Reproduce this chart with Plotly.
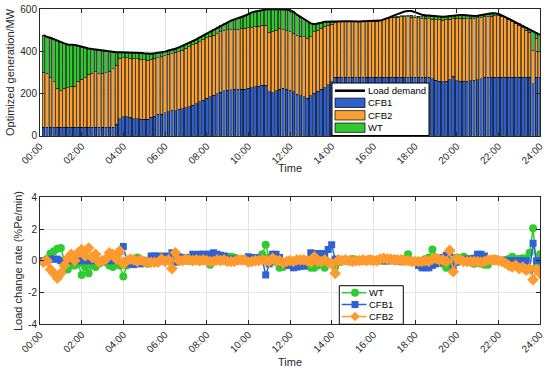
import plotly.graph_objects as go

# ---------------- data ----------------
times = [f"{(10 * k) // 60:02d}:{(10 * k) % 60:02d}" for k in range(1, 145)]
hours = [int(t[:2]) + int(t[3:]) / 60 for t in times]

tick_hours = [0, 2, 4, 6, 8, 10, 12, 14, 16, 18, 20, 22, 24]
tick_labels = ["00:00", "02:00", "04:00", "06:00", "08:00", "10:00", "12:00",
               "14:00", "16:00", "18:00", "20:00", "22:00", "24:00"]

load = [476, 468, 464, 457, 449, 442, 437, 432, 432, 429,
        426, 421, 416, 413, 410, 408, 405, 402, 400, 397,
        395, 395, 395, 395, 395, 395, 394, 393, 392, 390,
        388, 388, 390, 392, 395, 398, 403, 406, 412, 418,
        425, 432, 440, 448, 456, 465, 474, 483, 492, 502,
        512, 522, 530, 538, 545, 551, 556, 562, 568, 576,
        584, 588, 592, 595, 597, 600, 600, 600, 600, 600,
        598, 594, 586, 573, 562, 550, 540, 532, 528, 530,
        535, 539, 540, 540, 541, 541, 541, 542, 542, 541,
        541, 541, 542, 542, 543, 543, 543, 545, 551, 556,
        562, 570, 577, 583, 588, 591, 590, 585, 578, 573,
        570, 568, 566, 565, 563, 563, 565, 567, 570, 571,
        572, 571, 569, 567, 567, 568, 571, 575, 578, 580,
        580, 577, 570, 562, 553, 544, 537, 529, 521, 512,
        503, 495, 487, 478]

cfb1 = [39, 39, 39, 39, 39, 39, 39, 39, 39, 39,
        39, 39, 39, 39, 39, 39, 39, 39, 39, 39,
        39, 54, 81, 89, 89, 86, 81, 81, 78, 78,
        78, 86, 93, 101, 101, 108, 113, 120, 118, 124,
        128, 133, 137, 145, 152, 160, 168, 176, 184, 192,
        199, 206, 212, 215, 217, 219, 219, 219, 219, 224,
        228, 232, 235, 238, 239, 208, 203, 212, 220, 224,
        219, 214, 208, 197, 190, 184, 176, 190, 200, 210,
        219, 228, 240, 255, 276, 277, 277, 277, 277, 277,
        277, 277, 277, 277, 277, 277, 277, 277, 277, 277,
        277, 277, 277, 277, 277, 277, 277, 277, 277, 277,
        277, 277, 270, 262, 258, 255, 258, 265, 282, 260,
        258, 258, 258, 260, 262, 265, 270, 276, 277, 277,
        277, 277, 277, 277, 277, 277, 277, 277, 277, 277,
        277, 247, 277, 277]

cfb2 = [261, 256, 237, 216, 185, 173, 185, 189, 196, 196,
        219, 227, 235, 253, 256, 263, 256, 256, 258, 267,
        279, 280, 285, 280, 280, 281, 284, 283, 284, 282,
        280, 276, 273, 269, 273, 270, 272, 268, 277, 276,
        277, 282, 285, 285, 286, 286, 287, 287, 286, 284,
        286, 286, 288, 287, 285, 284, 286, 288, 289, 286,
        284, 284, 283, 284, 285, 282, 289, 288, 288, 279,
        278, 278, 276, 279, 282, 284, 285, 278, 292, 290,
        289, 291, 284, 273, 261, 264, 264, 265, 265, 264,
        264, 264, 265, 265, 266, 266, 266, 268, 274, 278,
        281, 283, 285, 286, 286, 286, 285, 283, 281, 280,
        280, 278, 282, 288, 290, 292, 291, 287, 273, 296,
        299, 298, 297, 296, 295, 293, 290, 287, 288, 289,
        291, 291, 289, 283, 274, 263, 255, 245, 235, 223,
        213, 158, 183, 123]

wt = [176, 173, 188, 202, 225, 230, 213, 204, 197, 194,
      168, 155, 142, 121, 115, 106, 110, 107, 103, 91,
      77, 61, 29, 26, 26, 28, 29, 29, 30, 30,
      30, 26, 24, 22, 21, 20, 18, 18, 17, 18,
      20, 17, 18, 18, 18, 19, 19, 20, 22, 26,
      27, 30, 30, 36, 43, 48, 51, 55, 60, 66,
      72, 72, 74, 73, 73, 110, 108, 100, 92, 97,
      101, 102, 102, 97, 90, 82, 79, 64, 36, 30,
      27, 20, 16, 12, 4, 0, 0, 0, 0, 0,
      0, 0, 0, 0, 0, 0, 0, 0, 0, 0,
      2, 3, 4, 5, 6, 8, 8, 8, 8, 8,
      8, 10, 14, 15, 15, 16, 16, 15, 15, 15,
      15, 15, 14, 11, 10, 10, 11, 12, 13, 14,
      12, 9, 4, 2, 2, 4, 5, 7, 9, 12,
      13, 90, 27, 78]

rate_wt = [0.0, 0.1, 0.45, 0.6, 0.75, 0.8, 0.0, -0.55, -0.3, -0.3,
           -0.2, -0.9, -0.4, -0.8, -0.3, -0.4, -0.2, 0.0, -0.1, -0.3,
           -0.4, -0.2, -0.3, -1.0, -0.3, -0.1, 0.1, 0.2, -0.1, 0.0,
           -0.2, -0.1, 0.0, -0.1, 0.0, 0.0, 0.1, -0.1, 0.0, 0.0,
           0.05, 0.0, 0.0, 0.1, 0.0, 0.1, 0.0, 0.05, -0.25, 0.0,
           0.1, 0.05, 0.2, 0.25, 0.25, 0.2, 0.1, 0.05, 0.1, 0.15,
           0.0, 0.05, 0.1, 0.4, 1.0, 0.2, 0.0, -0.1, -0.45, -0.4,
           -0.1, -0.2, -0.3, -0.3, -0.35, -0.2, -0.1, -0.45, -0.45, -0.3,
           -0.2, -0.45, -0.2, -0.1, -0.4, -0.1, 0.0, 0.05, 0.0, 0.1,
           0.05, 0.0, 0.0, 0.05, 0.1, 0.0, 0.05, 0.1, 0.0, 0.0,
           0.05, 0.1, 0.0, -0.05, 0.1, 0.4, 0.0, -0.1, -0.25, 0.0,
           0.1, 0.2, 0.7, 0.2, 0.1, -0.2, -0.45, -0.1, 0.0, 0.2,
           0.15, 0.25, 0.1, -0.1, -0.2, -0.15, -0.2, -0.25, -0.25, 0.0,
           0.1, 0.05, 0.0, 0.05, 0.1, 0.25, 0.1, 0.1, 0.15, 0.15,
           0.5, 2.05, -0.4, 0.4]

rate_cfb1 = [0.0, 0.0, 0.1, 0.1, 0.1, 0.0, 0.0, 0.0, 0.0, 0.0,
             0.0, 0.0, 0.0, 0.0, 0.0, 0.0, 0.0, 0.0, 0.0, 0.0,
             0.0, 0.3, 0.6, 0.9, 0.0, -0.2, -0.25, 0.0, -0.2, 0.0,
             0.0, 0.3, 0.3, 0.3, 0.0, 0.3, 0.2, 0.5, -0.1, 0.25,
             0.15, 0.2, 0.2, 0.4, 0.35, 0.4, 0.4, 0.4, 0.4, 0.5,
             0.4, 0.35, 0.3, 0.1, 0.1, 0.1, 0.0, 0.0, 0.0, 0.25,
             0.2, 0.2, 0.15, 0.1, -0.9, -0.2, 0.4, 0.4, 0.2, -0.2,
             -0.25, -0.3, -0.45, -0.4, -0.3, -0.35, 0.0, 0.5, 0.4, 0.45,
             0.4, 0.45, 0.7, 1.0, 0.1, 0.0, 0.0, 0.0, 0.0, 0.0,
             0.0, 0.0, 0.0, 0.0, 0.0, 0.0, 0.0, 0.0, 0.0, 0.0,
             0.0, 0.0, 0.0, 0.0, 0.0, 0.0, 0.0, 0.0, -0.3, -0.45,
             -0.45, -0.45, -0.3, -0.2, -0.1, 0.2, 0.35, 0.5, -0.5, -0.1,
             0.0, 0.0, 0.1, 0.1, 0.15, 0.4, 0.4, 0.3, 0.05, 0.0,
             0.0, 0.0, 0.0, 0.0, 0.0, 0.0, 0.0, 0.0, 0.0, 0.0,
             -0.6, 1.1, 0.0, 0.0]

rate_cfb2 = [-0.1, 0.0, -0.55, -0.8, -1.1, -0.8, -0.3, 0.15, 0.4, 0.0,
             0.5, 0.7, 0.3, 0.8, 0.2, 0.4, -0.1, 0.0, 0.1, 0.5,
             0.4, 0.1, 0.6, -0.2, 0.0, 0.1, 0.05, -0.05, 0.05, -0.05,
             -0.1, -0.1, -0.1, -0.1, 0.1, -0.05, 0.05, -0.5, 0.5, 0.0,
             0.0, 0.1, 0.05, 0.0, 0.05, 0.0, 0.05, 0.0, -0.05, -0.05,
             0.05, 0.0, 0.05, -0.05, -0.05, -0.05, 0.05, 0.05, 0.05, -0.1,
             -0.05, 0.0, 0.0, 0.05, 0.0, -0.05, 0.15, 0.0, 0.0, -0.15,
             -0.05, 0.0, -0.05, 0.05, 0.05, 0.05, 0.0, -0.1, 0.25, -0.05,
             -0.05, 0.05, -0.1, -0.2, -0.8, 0.05, 0.0, 0.05, 0.0, -0.05,
             0.0, 0.0, 0.05, 0.0, 0.05, 0.0, 0.0, 0.1, 0.15, 0.1,
             0.1, 0.05, 0.05, 0.05, 0.0, 0.0, -0.05, -0.05, -0.05, -0.05,
             0.0, -0.05, 0.1, 0.15, 0.05, 0.05, -0.05, 0.65, -0.7, 0.1,
             0.05, -0.05, -0.05, -0.05, -0.05, -0.05, -0.1, -0.05, 0.05, 0.05,
             0.05, 0.0, -0.05, -0.15, -0.3, -0.4, -0.3, -0.5, -0.4, -0.6,
             -0.5, -1.2, -0.55, -0.8]

# ---------------- style ----------------
BLUE = "#2F5FC9"
ORANGE = "#F8A033"
GREEN = "#33C733"
L_BLUE = "#2E62D4"
L_ORANGE = "#FF9A2E"
L_GREEN = "#2FCC2F"
AX = "#262626"
GRID = "#E3E3E3"
FONT = "Liberation Sans, Arial, sans-serif"

W, H = 550, 374
ML, MR, MT, MB = 40, 10, 9, 50
PW, PH = W - ML - MR, H - MT - MB


def px(x):
    return (x - ML) / PW


def py(y):
    return (H - MB - y) / PH


fig = go.Figure()

bar_w = 0.8 / 6
for name, vals, col in [("CFB1", cfb1, BLUE), ("CFB2", cfb2, ORANGE), ("WT", wt, GREEN)]:
    fig.add_trace(go.Bar(x=hours, y=vals, name=name, width=bar_w,
                         marker=dict(color=col, line=dict(color="black", width=0.5)),
                         xaxis="x", yaxis="y", showlegend=False))

fig.add_trace(go.Scatter(x=hours, y=load, mode="lines", name="Load demand",
                         line=dict(color="black", width=2), xaxis="x", yaxis="y",
                         showlegend=False))

for name, vals, col, sym, size in [("WT", rate_wt, L_GREEN, "circle", 8),
                                   ("CFB1", rate_cfb1, L_BLUE, "square", 7),
                                   ("CFB2", rate_cfb2, L_ORANGE, "diamond", 9)]:
    fig.add_trace(go.Scatter(x=hours, y=vals, mode="lines+markers", name=name,
                             line=dict(color=col, width=1.5),
                             marker=dict(symbol=sym, size=size, color=col,
                                         line=dict(color=col, width=0)),
                             xaxis="x2", yaxis="y2", showlegend=False))

axis_common = dict(showline=True, linecolor=AX, linewidth=1, mirror="ticks",
                   ticks="inside", ticklen=4, tickcolor=AX, showgrid=True,
                   gridcolor=GRID, gridwidth=1, zeroline=False, automargin=False,
                   tickfont=dict(family=FONT, size=10, color=AX))

xcommon = dict(axis_common, range=[0, 24], tickvals=tick_hours, ticktext=tick_labels,
               tickangle=-45)

fig.update_layout(
    width=W, height=H, margin=dict(l=ML, r=MR, t=MT, b=MB, autoexpand=False),
    paper_bgcolor="white", plot_bgcolor="white", barmode="stack",
    font=dict(family=FONT, size=10, color=AX),
    xaxis=dict(xcommon, domain=[0, 1], anchor="y"),
    yaxis=dict(axis_common, domain=[0.598, 1], range=[0, 600],
               tickvals=[0, 200, 400, 600], anchor="x"),
    xaxis2=dict(xcommon, domain=[0, 1], anchor="y2"),
    yaxis2=dict(axis_common, domain=[0, 0.402], range=[-4, 4],
                tickvals=[-4, -2, 0, 2, 4], ticktext=["-4", "-2", "0", "2", "4"],
                anchor="x2"),
)

ann = []
shapes = []
tfont = dict(family=FONT, size=11, color=AX)
lfont = dict(family=FONT, size=9.5, color="black")


def text_at(x, y, text, font, xanchor="center", angle=0):
    ann.append(dict(x=px(x), y=py(y), xref="paper", yref="paper", text=text,
                    xanchor=xanchor, yanchor="middle", textangle=angle,
                    showarrow=False, font=font, borderpad=0))


text_at(10, 72, "Optimized generation/MW", tfont, angle=-90)
text_at(290, 168, "Time", tfont)
text_at(18, 261, "Load change rate (%Pe/min)", tfont, angle=-90)
text_at(290, 362, "Time", tfont)

# top legend
shapes.append(dict(type="rect", xref="paper", yref="paper", x0=px(332), x1=px(429),
                   y0=py(135.5), y1=py(83), line=dict(color="black", width=1),
                   fillcolor="white", layer="above"))
shapes.append(dict(type="line", xref="paper", yref="paper", x0=px(335), x1=px(365),
                   y0=py(90.7), y1=py(90.7), line=dict(color="black", width=2.5), layer="above"))
text_at(367, 90.7, "Load demand", lfont, xanchor="left")
for lab, col, yc in [("CFB1", BLUE, 102.8), ("CFB2", ORANGE, 115.3), ("WT", GREEN, 127.7)]:
    shapes.append(dict(type="rect", xref="paper", yref="paper", x0=px(335), x1=px(365),
                       y0=py(yc + 4.7), y1=py(yc - 4.7), fillcolor=col,
                       line=dict(color="black", width=0.7), layer="above"))
    text_at(367, yc, lab, lfont, xanchor="left")

# bottom legend
shapes.append(dict(type="rect", xref="paper", yref="paper", x0=px(339.3), x1=px(403.3),
                   y0=py(324.3), y1=py(285.7), line=dict(color="black", width=1),
                   fillcolor="white", layer="above"))
for lab, col, yc, sym in [("WT", L_GREEN, 292.7, "circle"), ("CFB1", L_BLUE, 304.5, "square"),
                          ("CFB2", L_ORANGE, 316.5, "diamond")]:
    shapes.append(dict(type="line", xref="paper", yref="paper", x0=px(341.7), x1=px(366.5),
                       y0=py(yc), y1=py(yc), line=dict(color=col, width=1.5), layer="above"))
    cx = 355
    if sym == "circle":
        shapes.append(dict(type="circle", xref="paper", yref="paper", x0=px(cx - 4),
                           x1=px(cx + 4), y0=py(yc + 4), y1=py(yc - 4),
                           fillcolor=col, line=dict(color=col, width=0), layer="above"))
    elif sym == "square":
        shapes.append(dict(type="rect", xref="paper", yref="paper", x0=px(cx - 3.5),
                           x1=px(cx + 3.5), y0=py(yc + 3.5), y1=py(yc - 3.5),
                           fillcolor=col, line=dict(color=col, width=0), layer="above"))
    else:
        path = (f"M {px(cx - 4.8)} {py(yc)} L {px(cx)} {py(yc - 4.8)} "
                f"L {px(cx + 4.8)} {py(yc)} L {px(cx)} {py(yc + 4.8)} Z")
        shapes.append(dict(type="path", xref="paper", yref="paper", path=path,
                           fillcolor=col, line=dict(color=col, width=0), layer="above"))
    text_at(368.3, yc, lab, lfont, xanchor="left")

fig.update_layout(annotations=ann, shapes=shapes)
fig.write_html("out.html", config={"displayModeBar": False},
               post_script="document.body.style.margin='0';document.body.style.padding='0';")
